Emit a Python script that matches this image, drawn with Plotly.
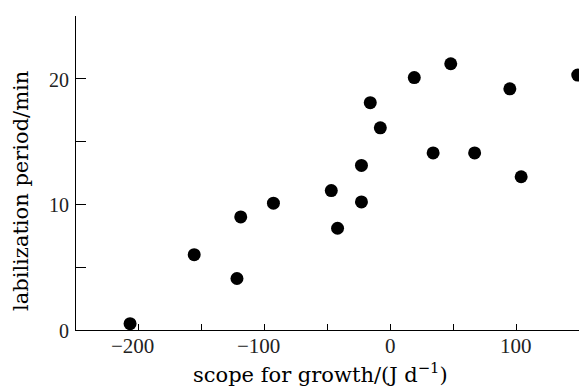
import plotly.graph_objects as go

scope_for_growth = [-207, -156, -122, -119, -93, -47, -42, -23, -23, -16, -8, 19, 34, 48, 67, 95, 104, 149]
labilization_period = [0.5, 6.0, 4.1, 9.0, 10.1, 11.1, 8.1, 13.1, 10.2, 18.1, 16.1, 20.1, 14.1, 21.2, 14.1, 19.2, 12.2, 20.3]

x_tickvals = [-200, -100, 0, 100]
x_ticktext = ["\u2212200", "\u2212100", "0", "100"]
y_tickvals = [0, 10, 20]
y_ticktext = ["0", "10", "20"]

tick_font = "Liberation Serif, DejaVu Serif, serif"
title_font = "DejaVu Serif, Liberation Serif, serif"

# plot area in pixels
L, R, T, B = 76, 579, 16, 330
W, H = 579, 387

def px(xp):
    return (xp - L) / (R - L)

def py(yp):
    return (B - yp) / (B - T)

fig = go.Figure()
fig.add_trace(go.Scatter(
    x=scope_for_growth, y=labilization_period, mode="markers",
    marker=dict(size=13, color="black"), cliponaxis=False, showlegend=False,
))

fig.update_layout(
    width=W, height=H,
    margin=dict(l=L, r=W - R, t=T, b=H - B),
    paper_bgcolor="white", plot_bgcolor="white",
    font=dict(family=tick_font, color="black", size=18),
    xaxis=dict(
        range=[-250, 150], showgrid=False, zeroline=False,
        showline=True, linecolor="black", linewidth=1.2,
        ticks="inside", ticklen=6, tickwidth=1.2, tickcolor="black",
        tick0=-250, dtick=50,
        showticklabels=False,
    ),
    yaxis=dict(
        range=[0, 25], showgrid=False, zeroline=False,
        showline=True, linecolor="black", linewidth=1.2,
        ticks="inside", ticklen=10, tickwidth=1.2, tickcolor="black",
        tick0=0, dtick=5, showticklabels=False,
    ),
)

for v, t in zip(x_tickvals, x_ticktext):
    shift = -6 if v < 0 else 0
    fig.add_annotation(x=v, y=0, xref="x", yref="y", text=t, showarrow=False,
                       yshift=-16, xshift=shift, font=dict(size=21, color="#222"))
for v, t in zip(y_tickvals, y_ticktext):
    fig.add_annotation(x=-250, y=v, xref="x", yref="y", text=t, showarrow=False,
                       xanchor="right", xshift=-5, yshift=-1, font=dict(size=20, color="#222"))

fig.add_annotation(x=px(320), y=py(373), xref="paper", yref="paper",
                   text="scope for growth/(J d<sup>\u22121</sup>)",
                   showarrow=False, font=dict(size=21, family=title_font),
                   xanchor="center", yanchor="middle")
fig.add_annotation(x=px(21), y=py(191), xref="paper", yref="paper",
                   text="labilization period/min",
                   textangle=-90, showarrow=False, font=dict(size=21, family=title_font),
                   xanchor="center", yanchor="middle")

fig.write_html("out.html")
